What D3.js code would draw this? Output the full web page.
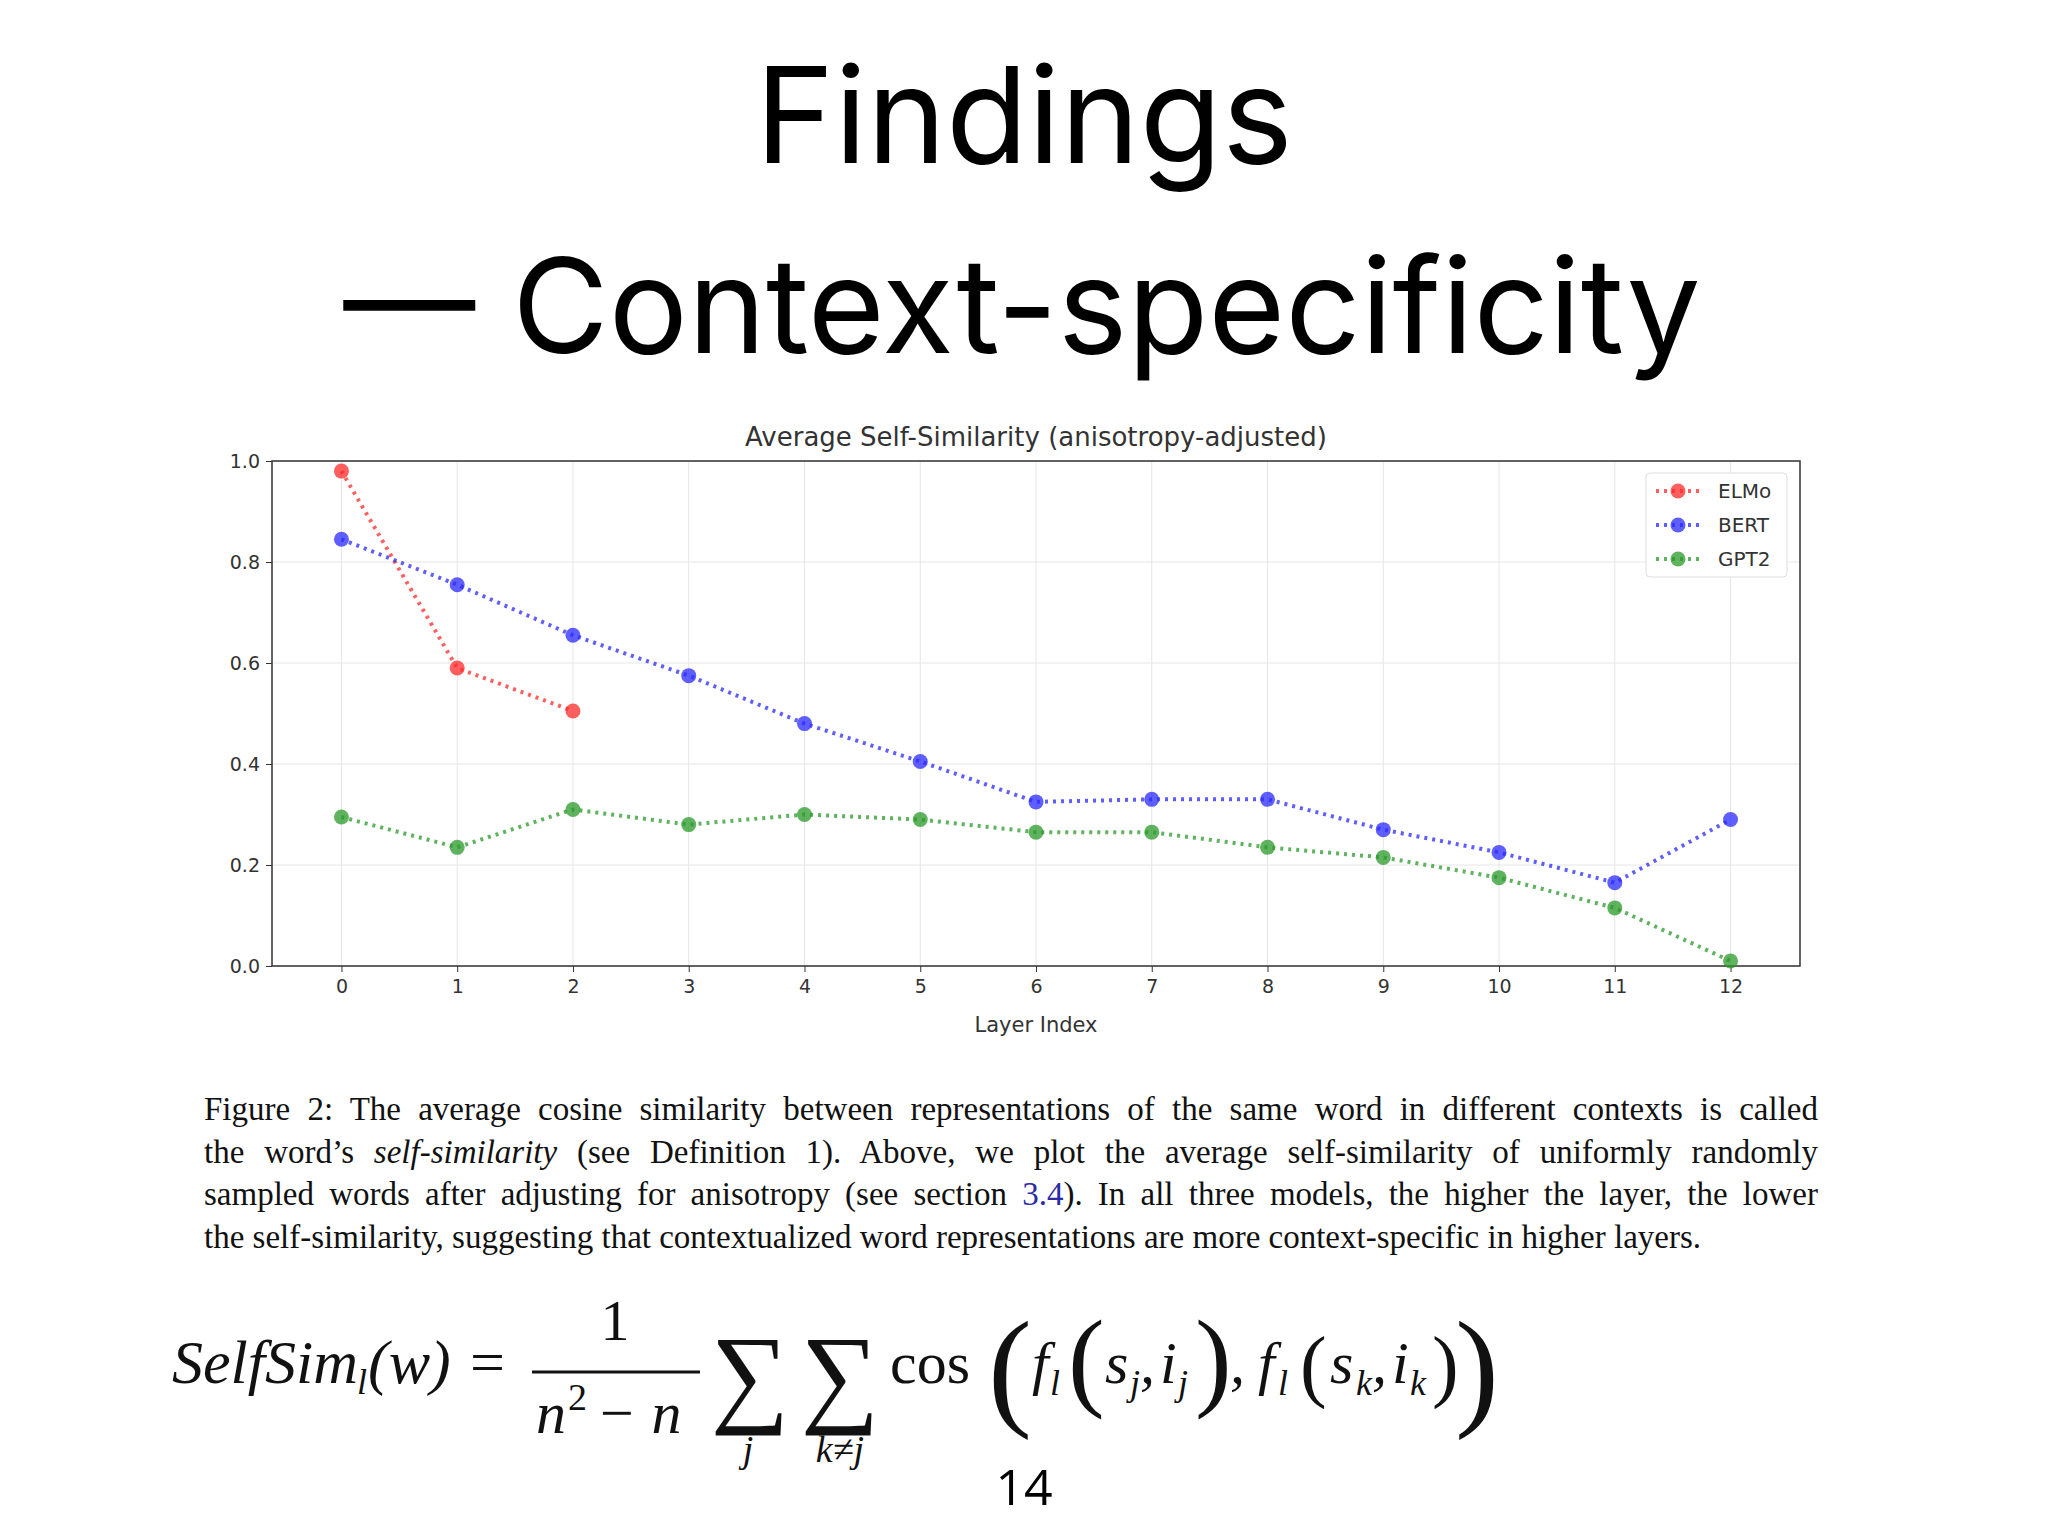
<!DOCTYPE html>
<html><head><meta charset="utf-8">
<script src="https://cdn.jsdelivr.net/npm/d3@7"></script>
<style>
body{margin:0;background:#fff;width:2048px;height:1536px;overflow:hidden;position:relative}
#cap{position:absolute;left:204px;top:1088px;width:1614px;font-family:"Liberation Serif",serif;font-size:33px;line-height:42.5px;color:#111}
#cap div{text-align:justify;text-align-last:justify;white-space:nowrap}
#cap div.last{text-align-last:left}
</style></head><body>
<svg id="s" width="2048" height="1536" style="position:absolute;left:0;top:0"></svg>
<div id="cap"></div>
<script>
const layers = d3.range(13);
const elmo = [0.98, 0.59, 0.505];
const bert = [0.845, 0.755, 0.655, 0.575, 0.48, 0.405, 0.325, 0.33, 0.33, 0.27, 0.225, 0.165, 0.29];
const gpt2 = [0.295, 0.235, 0.31, 0.28, 0.30, 0.29, 0.265, 0.265, 0.235, 0.215, 0.175, 0.115, 0.01];
const yTicks = [0, 0.2, 0.4, 0.6, 0.8, 1.0];
const seriesNames = ["ELMo", "BERT", "GPT2"];
const colors = ["#ff2a2a", "#2a2aff", "#2a9a2a"];
const captionLines = [
 "Figure 2: The average cosine similarity between representations of the same word in different contexts is called",
 "the word’s <i>self-similarity</i> (see Definition 1). Above, we plot the average self-similarity of uniformly randomly",
 "sampled words after adjusting for anisotropy (see section <span style=\"color:#2a2aa8\">3.4</span>). In all three models, the higher the layer, the lower",
 "the self-similarity, suggesting that contextualized word representations are more context-specific in higher layers."
];
d3.select("#cap").selectAll("div").data(captionLines).enter().append("div")
  .attr("class",(d,i)=>i===3?"last":null).style("white-space","normal").html(d=>d);

const svg = d3.select("#s");
svg.append("text").attr("x",1024).attr("y",163).attr("text-anchor","middle")
  .attr("font-family","Inter, 'Open Sans', sans-serif").attr("font-size",134).text("Findings");
svg.append("text").attr("x",1022).attr("y",353).attr("text-anchor","middle")
  .attr("font-family","Inter, 'Open Sans', sans-serif").attr("font-size",132).text("— Context-specificity");

const L=272,R=1800,T=461,B=966;
const x = d3.scaleLinear().domain([-0.6,12.6]).range([L,R]);
const y = d3.scaleLinear().domain([0,1]).range([B,T]);
const g = svg.append("g").attr("font-family","'DejaVu Sans', sans-serif");
g.selectAll(".gx").data(layers).enter().append("line").attr("x1",d=>x(d)).attr("x2",d=>x(d)).attr("y1",T).attr("y2",B).attr("stroke","#e6e6e6");
g.selectAll(".gy").data(yTicks).enter().append("line").attr("x1",L).attr("x2",R).attr("y1",d=>y(d)).attr("y2",d=>y(d)).attr("stroke","#e6e6e6");
g.append("rect").attr("x",L).attr("y",T).attr("width",R-L).attr("height",B-T).attr("fill","none").attr("stroke","#333").attr("stroke-width",1.5);
const ax = g.append("g").attr("transform",`translate(0,${B})`).call(d3.axisBottom(x).tickValues(layers).tickSize(6).tickPadding(8));
const ay = g.append("g").attr("transform",`translate(${L},0)`).call(d3.axisLeft(y).tickValues(yTicks).tickFormat(d3.format(".1f")).tickSize(6).tickPadding(6));
[ax,ay].forEach(a=>{a.select(".domain").remove();a.selectAll("text").attr("font-size",19).attr("fill","#333").attr("font-family","'DejaVu Sans', sans-serif");a.selectAll("line").attr("stroke","#333");});
g.append("text").attr("x",(L+R)/2).attr("y",1032).attr("text-anchor","middle").attr("font-size",21).attr("fill","#333").text("Layer Index");
g.append("text").attr("x",(L+R)/2).attr("y",446).attr("text-anchor","middle").attr("font-size",26).attr("fill","#333").text("Average Self-Similarity (anisotropy-adjusted)");

const line = d3.line().x((d,i)=>x(i)).y(d=>y(d));
[elmo,bert,gpt2].forEach((data,k)=>{
  g.append("path").attr("d",line(data)).attr("fill","none").attr("stroke",colors[k]).attr("stroke-width",4).attr("stroke-dasharray","3,5").attr("opacity",0.75);
  g.selectAll(null).data(data).enter().append("circle").attr("cx",(d,i)=>x(i)).attr("cy",d=>y(d)).attr("r",7.5).attr("fill",colors[k]).attr("opacity",0.75);
});
const lg = g.append("g");
lg.append("rect").attr("x",1646).attr("y",473).attr("width",141).attr("height",104).attr("rx",4).attr("fill","#fff").attr("stroke","#ddd");
seriesNames.forEach((n,k)=>{
  const yy=491+k*34;
  lg.append("line").attr("x1",1656).attr("x2",1700).attr("y1",yy).attr("y2",yy).attr("stroke",colors[k]).attr("stroke-width",4).attr("stroke-dasharray","3,5").attr("opacity",0.75);
  lg.append("circle").attr("cx",1678).attr("cy",yy).attr("r",7.5).attr("fill",colors[k]).attr("opacity",0.75);
  lg.append("text").attr("x",1718).attr("y",yy+7).attr("font-size",20).attr("fill","#333").text(n);
});

// formula
const f = svg.append("g").attr("font-family","'Liberation Serif', serif").attr("fill","#111");
const t=(xx,yy,s,txt,it=true,anchor="start")=>f.append("text").attr("x",xx).attr("y",yy).attr("font-size",s).attr("font-style",it?"italic":"normal").attr("text-anchor",anchor).text(txt);
t(172,1383,62,"SelfSim");
t(357,1394,36,"l");
t(368,1383,62,"(w)");
t(470,1383,62,"=",false);
t(615,1340,58,"1",false,"middle");
f.append("line").attr("x1",532).attr("x2",700).attr("y1",1372).attr("y2",1372).attr("stroke","#111").attr("stroke-width",3);
t(536,1433,60,"n");t(568,1410,38,"2",false);t(596,1433,60,"− n",true);
t(750,1412,110,"∑",false,"middle");t(840,1412,110,"∑",false,"middle");
t(748,1462,38,"j",true,"middle");t(840,1462,38,"k≠j",true,"middle");
t(890,1383,60,"cos",false);
t(988,1412,132,"(",false);
t(1032,1383,60,"f");t(1050,1395,36,"l");
t(1068,1396,110,"(",false);t(1105,1383,60,"s");t(1130,1395,36,"j");t(1140,1383,60,",");t(1160,1383,60,"i");t(1178,1395,36,"j");t(1195,1396,110,")",false);
t(1230,1383,60,",");t(1258,1383,60,"f");t(1278,1395,36,"l");
t(1300,1392,80,"(",false);t(1330,1383,60,"s");t(1356,1395,36,"k");t(1372,1383,60,",");t(1392,1383,60,"i");t(1410,1395,36,"k");t(1432,1392,80,")",false);
t(1455,1412,132,")",false);
svg.append("text").attr("x",1024).attr("y",1505).attr("text-anchor","middle").attr("font-family","'Open Sans', sans-serif").attr("font-size",50).text("14");
</script>
</body></html>
